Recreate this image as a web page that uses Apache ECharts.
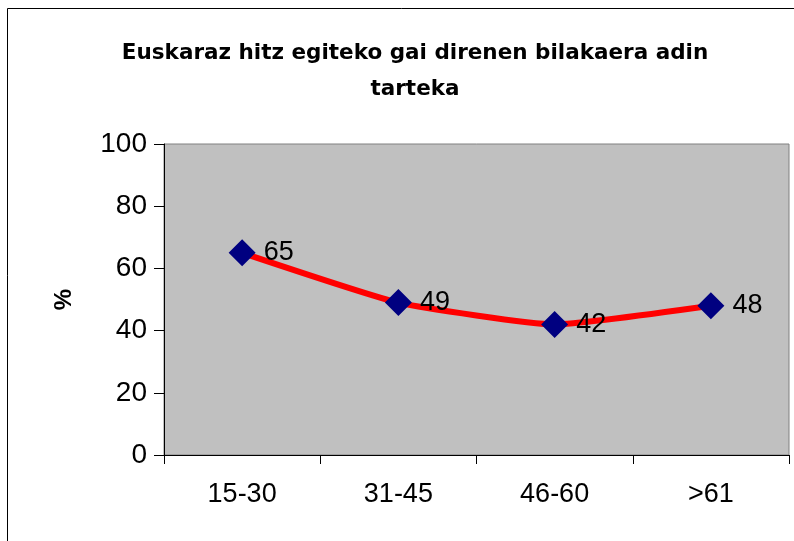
<!DOCTYPE html>
<html>
<head>
<meta charset="utf-8">
<script src="https://cdn.jsdelivr.net/npm/echarts@6/dist/echarts.min.js"></script>
<style>html,body{margin:0;padding:0;background:#fff}#c{width:794px;height:541px}</style>
</head>
<body>
<div id="c"></div>
<script>
const categories = ['15-30', '31-45', '46-60', '>61'];
const values = [65, 49, 42, 48];
const yTicks = { min: 0, max: 100, interval: 20 };
const titleText = 'Euskaraz hitz egiteko gai direnen bilakaera adin\ntarteka';
const yName = '%';

const chart = echarts.init(document.getElementById('c'), null, { renderer: 'canvas' });
chart.setOption({
  animation: false,
  backgroundColor: '#ffffff',
  graphic: [{
    type: 'rect', shape: { x: 7.5, y: 8.5, width: 800, height: 540 },
    style: { fill: 'none', stroke: '#000', lineWidth: 1 }, z: 100
  }],
  title: {
    text: titleText, left: 410, top: 30, textAlign: 'center',
    textStyle: { fontFamily: 'DejaVu Sans', fontWeight: 'bold', fontSize: 21.5, lineHeight: 36, color: '#000' }
  },
  grid: {
    left: 164, right: 5, top: 144, bottom: 86,
    show: true, backgroundColor: '#C0C0C0', borderColor: '#808080', borderWidth: 1
  },
  xAxis: {
    type: 'category', data: categories, boundaryGap: true,
    axisLine: { lineStyle: { color: '#000', width: 1 } },
    axisTick: { show: true, length: 9, lineStyle: { color: '#000' } },
    axisLabel: { margin: 26, fontFamily: 'Liberation Sans, Arial', fontSize: 27, color: '#000' },
    splitLine: { show: false }
  },
  yAxis: {
    type: 'value', min: yTicks.min, max: yTicks.max, interval: yTicks.interval,
    name: yName, nameLocation: 'middle', nameGap: 88, nameRotate: 90,
    nameTextStyle: { fontFamily: 'Liberation Sans, Arial', fontWeight: 'bold', fontSize: 24, color: '#000' },
    axisLine: { show: true, lineStyle: { color: '#000', width: 1 } },
    axisTick: { show: true, length: 10, lineStyle: { color: '#000' } },
    axisLabel: { margin: 17, fontFamily: 'Liberation Sans, Arial', fontSize: 28, color: '#000' },
    splitLine: { show: false }
  },
  series: [{
    type: 'line', data: values, smooth: 0.15,
    lineStyle: { color: '#FF0000', width: 6 },
    symbol: 'diamond', symbolSize: 27,
    itemStyle: { color: '#000080' },
    label: {
      show: true, position: 'right', distance: 8,
      fontFamily: 'Liberation Sans, Arial', fontSize: 27, color: '#000'
    }
  }]
});
</script>
</body>
</html>
